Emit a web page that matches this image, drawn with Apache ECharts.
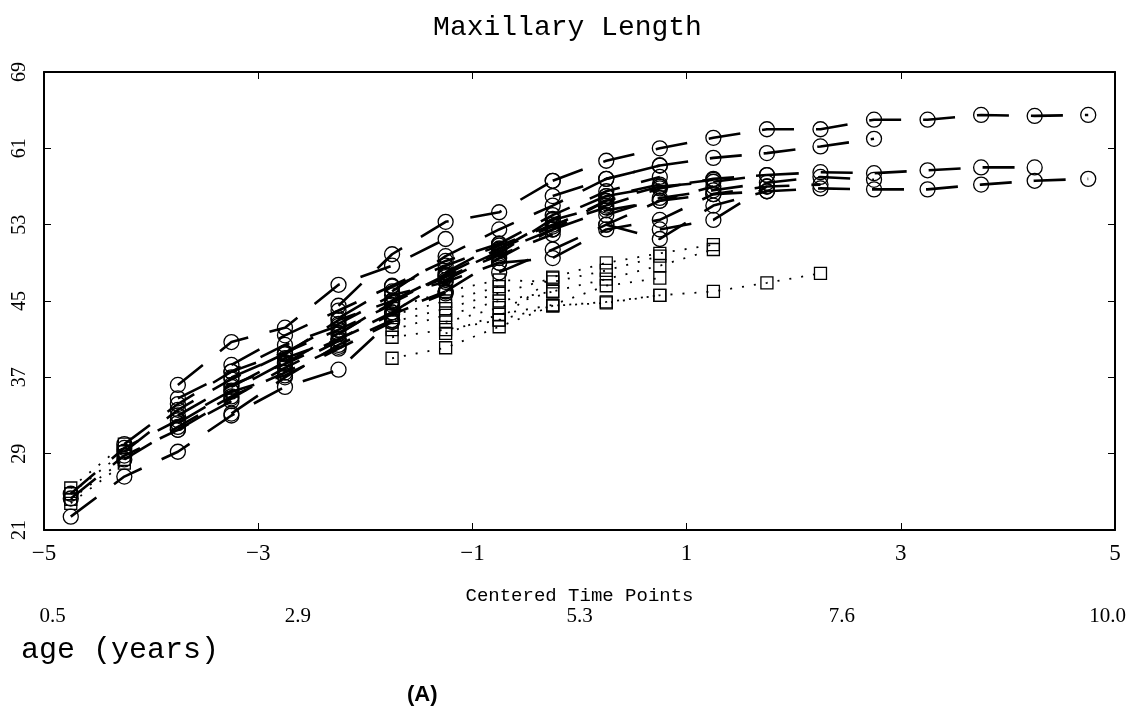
<!DOCTYPE html>
<html>
<head>
<meta charset="utf-8">
<script src="https://cdn.jsdelivr.net/npm/echarts@6/dist/echarts.min.js"></script>
<style>
html,body{margin:0;padding:0;background:#fff;}
#chart{width:1135px;height:710px;}
</style>
</head>
<body>
<div id="chart"></div>
<script>
// Centered time points (x positions of the observation occasions)
const timePoints = [-4.75, -4.25, -3.75, -3.25, -2.75, -2.25, -1.75, -1.25, -0.75, -0.25,
                    0.25, 0.75, 1.25, 1.75, 2.25, 2.75, 3.25, 3.75, 4.25, 4.75];

// Circle group: index of first occasion and measured values (dashed lines)
const circleStart = [0, 0, 0, 1, 1, 1, 2, 2, 2, 2, 2, 3, 3, 3, 3, 4, 4, 5, 5, 5,
                     6, 6, 6, 7, 7, 8, 8, 8, 9, 9, 10, 9, 10, 11, 10];
const circleValues = [
  [22.4, 26.6, 29.2, 33.0, 36.0, 37.8, 43.0],
  [24.3, 28.8, 31.5, 34.5],
  [24.8, 29.6, 32.5, 35.6, 38.6],
  [28.4, 31.8, 35.0, 37.5, 40.2],
  [29.2, 33.6, 36.8, 39.5],
  [30.0, 34.2, 37.6, 40.4, 42.4],
  [36.2, 40.7, 42.2, 46.7, 48.7, 51.5],
  [34.8, 37.6, 39.6, 42.0, 44.6],
  [33.0, 36.2, 38.4, 41.0, 43.8, 46.0],
  [31.5, 34.8, 38.0, 40.8],
  [32.2, 35.5, 37.2, 40.0, 42.8],
  [37.0, 39.4, 43.0, 45.0, 47.7],
  [38.3, 41.4, 44.0, 46.6, 49.2, 51.0],
  [36.0, 39.0, 41.0, 43.6, 45.8],
  [33.2, 37.0, 40.4, 43.0],
  [39.6, 42.6, 45.6, 47.0, 49.0],
  [38.5, 41.6, 44.8, 47.6, 50.2, 52.5],
  [44.5, 49.9, 53.3, 54.3, 57.6],
  [43.2, 46.5, 48.7, 50.8, 53.0, 54.8],
  [41.5, 45.0, 47.5, 49.8, 52.0],
  [46.0, 49.7, 52.5, 55.0, 57.8, 59.2],
  [45.0, 47.8, 50.5, 52.8, 55.5],
  [43.8, 47.2, 50.0, 53.6, 56.0, 57.2],
  [48.0, 51.0, 54.0, 56.5, 58.0],
  [46.0, 49.5, 52.5, 55.5, 57.0, 57.7],
  [50.4, 53.5, 55.0, 56.8, 57.8, 58.2],
  [48.0, 50.4, 53.0, 55.5, 57.0],
  [49.0, 49.5, 52.5, 53.5, 56.2, 57.0],
  [57.6, 59.7, 61.0, 62.1, 63.0, 63.0, 64.0, 64.0, 64.5, 64.4, 64.5],
  [56.0, 57.8, 59.2, 60.0, 60.5, 61.2, 62.0],
  [56.0, 57.0, 57.5, 58.2, 58.5, 58.4, 58.7, 59.0, 59.0],
  [52.5, 54.5, 55.5, 56.2, 56.5, 56.8, 56.7, 56.7, 57.2, 57.6, 57.8],
  [54.0, 55.8, 56.6, 57.4, 58.0, 57.7],
  [52.5, 53.5, 57.0, 57.2],
  [53.0, 51.5, 55.0, 56.5]
];

// Square group: index of first occasion and measured values (dotted lines)
const squareStart = [0, 0, 0, 0, 6, 6, 6, 6, 6, 6, 7, 7, 8];
const squareValues = [
  [24.2, 28.4],
  [24.8, 29.2],
  [25.4, 30.0],
  [23.8, 28.0],
  [39.0, 40.1, 42.3, 44.5, 44.8, 45.6, 46.0, 46.9, 47.9],
  [41.2, 42.0, 43.0, 47.5, 49.0, 50.0, 50.9],
  [42.0, 43.5, 45.0, 46.0, 47.3, 48.7, 50.4],
  [42.8, 44.2, 45.8, 47.4],
  [43.5, 45.0, 46.5],
  [44.2, 46.0, 47.2, 47.0, 48.2, 49.7],
  [41.6, 43.6, 44.6, 46.6, 47.4],
  [42.8, 44.3, 46.0],
  [43.0, 44.5, 44.9, 45.6]
];

// Axis ticks and labels
const xTickValues = [-5, -3, -1, 1, 3, 5];
const xInnerTicks = [-3, -1, 1, 3];
const yTickValues = [21, 29, 37, 45, 53, 61, 69];
const yInnerTicks = [29, 37, 45, 53, 61];
const ageTickPos = [-4.92, -2.63, 0.0, 2.45, 4.93];
const ageTickLabels = ['0.5', '2.9', '5.3', '7.6', '10.0'];

const serif = 'Liberation Serif';
const mono = 'Liberation Mono';

function makeSeries(start, vals, isCircle) {
  return {
    type: 'line',
    xAxisIndex: 0,
    yAxisIndex: 0,
    data: vals.map((v, i) => [timePoints[start + i], v]),
    symbol: isCircle ? 'circle' : 'rect',
    symbolSize: isCircle ? 15 : 12,
    showSymbol: true,
    showAllSymbol: true,
    silent: true,
    animation: false,
    z: isCircle ? 3 : 2,
    itemStyle: { color: 'rgba(0,0,0,0)', borderColor: '#000', borderWidth: 1.3 },
    lineStyle: isCircle
      ? { color: '#000', width: 2.6, type: [32, 22] }
      : { color: '#000', width: 1.8, type: [2, 10] }
  };
}

const series = [];
squareValues.forEach((vals, k) => series.push(makeSeries(squareStart[k], vals, false)));
circleValues.forEach((vals, k) => series.push(makeSeries(circleStart[k], vals, true)));

const fmtMinus = v => (v < 0 ? '\u2212' + Math.abs(v) : String(v));
const frameLine = { show: true, onZero: false, lineStyle: { color: '#000', width: 2 } };

const chart = echarts.init(document.getElementById('chart'), null, { renderer: 'canvas' });
chart.setOption({
  backgroundColor: '#fff',
  animation: false,
  title: [
    { text: 'Maxillary Length', left: 'center', top: 9,
      textStyle: { fontFamily: mono, fontSize: 28, fontWeight: 'normal', color: '#000' } },
    { text: 'age (years)', left: 16, top: 630,
      textStyle: { fontFamily: mono, fontSize: 30, fontWeight: 'normal', color: '#000' } },
    { text: '(A)', left: 402, top: 679,
      textStyle: { fontFamily: 'Liberation Sans', fontSize: 22, fontWeight: 'bold', color: '#000' } }
  ],
  grid: { left: 44, right: 20, top: 72, bottom: 180, containLabel: false },
  xAxis: [
    {
      type: 'value', position: 'bottom', min: -5, max: 5,
      axisLine: frameLine,
      axisTick: { show: true, inside: true, length: 7, customValues: xInnerTicks, lineStyle: { color: '#000', width: 1 } },
      axisLabel: { customValues: xTickValues, formatter: fmtMinus, margin: 12,
        fontFamily: serif, fontSize: 23, color: '#000' },
      splitLine: { show: false },
      name: 'Centered Time Points', nameLocation: 'middle', nameGap: 56,
      nameTextStyle: { fontFamily: mono, fontSize: 19, color: '#000' }
    },
    {
      type: 'value', position: 'top', min: -5, max: 5,
      axisLine: frameLine,
      axisTick: { show: true, inside: true, length: 7, customValues: xInnerTicks, lineStyle: { color: '#000', width: 1 } },
      axisLabel: { show: false },
      splitLine: { show: false }
    },
    {
      type: 'value', position: 'bottom', offset: 72, min: -5, max: 5,
      axisLine: { show: false, onZero: false },
      axisTick: { show: false },
      axisLabel: { customValues: ageTickPos, margin: 4,
        formatter: v => ageTickLabels[ageTickPos.indexOf(v)] || '',
        fontFamily: serif, fontSize: 21, color: '#000' },
      splitLine: { show: false }
    }
  ],
  yAxis: [
    {
      type: 'value', position: 'left', min: 21, max: 69,
      axisLine: frameLine,
      axisTick: { show: true, inside: true, length: 7, customValues: yInnerTicks, lineStyle: { color: '#000', width: 1 } },
      axisLabel: { customValues: yTickValues, rotate: 90, margin: 14,
        fontFamily: serif, fontSize: 20, color: '#000' },
      splitLine: { show: false }
    },
    {
      type: 'value', position: 'right', min: 21, max: 69,
      axisLine: frameLine,
      axisTick: { show: true, inside: true, length: 7, customValues: yInnerTicks, lineStyle: { color: '#000', width: 1 } },
      axisLabel: { show: false },
      splitLine: { show: false }
    }
  ],
  series: series
});
</script>
</body>
</html>
